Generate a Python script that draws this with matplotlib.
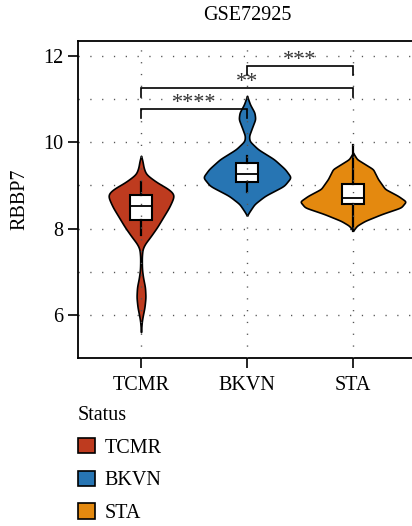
import numpy as np
import matplotlib
matplotlib.use("Agg")
import matplotlib.pyplot as plt
from matplotlib.patches import Patch

plt.rcParams['font.family'] = ['Liberation Serif', 'DejaVu Serif']

# ---------------- data ----------------
groups = ["TCMR", "BKVN", "STA"]
colors = ["#BE3B1F", "#2775B3", "#E4890F"]
title = "GSE72925"
ylabel = "RBBP7"

# violin density profiles (value, relative half-width)
tcmr_y = [5.60, 5.83, 5.95, 6.18, 6.41, 6.64, 6.87, 7.05, 7.19, 7.35, 7.53, 7.65, 7.80, 8.03,
          8.26, 8.49, 8.69, 8.80, 8.92, 9.07, 9.26, 9.42, 9.57, 9.69]
tcmr_d = [0.0, 0.7, 1.5, 3.5, 4.5, 4.0, 2.0, 1.0, 0.8, 0.8, 1.5, 4.0, 9.0, 16.0,
          22.0, 28.0, 32.0, 33.0, 27.5, 16.0, 5.0, 2.5, 1.5, 0.0]
bkvn_y = [8.30, 8.38, 8.57, 8.76, 8.99, 9.19, 9.38, 9.61, 9.84, 10.03, 10.15, 10.34,
          10.54, 10.69, 10.88, 11.08]
bkvn_d = [0.0, 2.0, 7.5, 18.0, 37.0, 44.0, 38.0, 27.0, 11.0, 2.5, 2.0, 5.0,
          8.3, 7.5, 3.0, 0.0]
sta_y = [7.95, 8.07, 8.18, 8.34, 8.49, 8.63, 8.76, 8.92, 9.15, 9.38, 9.61, 9.76]
sta_d = [0.0, 4.0, 12.0, 29.0, 48.0, 53.0, 45.0, 32.0, 25.0, 20.0, 4.0, 0.0]

# box statistics
q1 = [8.20, 9.09, 8.58]
med = [8.52, 9.26, 8.72]
q3 = [8.79, 9.52, 9.04]
whislo = [7.85, 8.84, 7.95]
whishi = [9.07, 9.69, 9.93]

# significance brackets
pairs = [(1, 2), (1, 3), (2, 3)]
bracket_h = [10.77, 11.25, 11.77]
stars = ["****", "**", "***"]

# ---------------- figure ----------------
FS = 14.5
W, H = 412, 526
fig = plt.figure(figsize=(W / 100, H / 100), dpi=100)
ax_l, ax_r, ax_t, ax_b = 78, 440, 41, 358
ax = fig.add_axes([ax_l / W, 1 - ax_b / H, (ax_r - ax_l) / W, (ax_b - ax_t) / H])
px_per_unit = 106.0
x0 = 1 - (141 - ax_l) / px_per_unit
ax.set_xlim(x0, x0 + (ax_r - ax_l) / px_per_unit)
ax.set_ylim(5.0, 12.35)

# horizontal grid (beneath)
for v in range(6, 13):
    ax.axhline(v, color="#555555", lw=1.0, ls=(0, (0.9, 7.6)), zorder=0)


def smooth_profile(ys, ds, n=400):
    yy = np.linspace(ys[0], ys[-1], n)
    dd = np.interp(yy, ys, ds)
    k = np.exp(-0.5 * (np.arange(-12, 13) / 5.0) ** 2)
    k /= k.sum()
    pad = np.concatenate([np.zeros(12), dd, np.zeros(12)])
    dd = np.convolve(pad, k, mode="same")[12:-12]
    dd[0] = dd[-1] = 0
    return yy, dd


profiles = [(tcmr_y, tcmr_d), (bkvn_y, bkvn_d), (sta_y, sta_d)]
for i, (ys, ds) in enumerate(profiles):
    pos = i + 1
    yy, dd = smooth_profile(ys, ds)
    hw = dd / px_per_unit
    ax.fill_betweenx(yy, pos - hw, pos + hw, facecolor=colors[i], edgecolor="black",
                     lw=1.2, zorder=2)

# box plots
stats = []
for i in range(3):
    stats.append(dict(med=med[i], q1=q1[i], q3=q3[i], whislo=whislo[i], whishi=whishi[i],
                      fliers=[]))
ax.bxp(stats, positions=[1, 2, 3], widths=0.2, patch_artist=True, showcaps=False,
       showfliers=False, manage_ticks=False,
       boxprops=dict(facecolor="white", edgecolor="black", lw=1.5),
       medianprops=dict(color="black", lw=1.3),
       whiskerprops=dict(color="black", lw=1.6), zorder=3)

# vertical grid (dots show above)
for p in [1, 2, 3]:
    ax.axvline(p, color="#555555", lw=1.0, ls=(0, (0.9, 7.6)), zorder=4)

# brackets
drop = 0.2
for (a, b), h, s in zip(pairs, bracket_h, stars):
    ax.plot([a, a, b, b], [h - drop, h, h, h - drop], color="black", lw=1.2, zorder=5,
            solid_joinstyle="miter")
    ax.text((a + b) / 2, h + 0.13, s, ha="center", va="center", fontsize=16,
            color="#333333", zorder=6)

# axes styling
ax.set_yticks([6, 8, 10, 12])
ax.set_xticks([1, 2, 3])
ax.set_xticklabels(groups)
ax.tick_params(axis="both", direction="out", length=7, width=1.2, labelsize=FS,
               colors="black")
ax.tick_params(axis="x", pad=6)
for sp in ax.spines.values():
    sp.set_linewidth(1.3)
ax.set_ylabel(ylabel, fontsize=FS, labelpad=10)
fig.text(247 / W, 1 - 15 / H, title, ha="center", va="center", fontsize=FS)

# legend
handles = [Patch(facecolor=c, edgecolor="black", lw=1.2) for c in colors]
leg = fig.legend(handles, groups, title="Status", loc="upper left",
                 bbox_to_anchor=(64 / W, 1 - 392 / H), frameon=False, fontsize=FS,
                 title_fontsize=FS, handlelength=0.85, handleheight=0.8,
                 handletextpad=0.45, labelspacing=0.64, borderpad=0.2)
leg._legend_box.align = "left"

fig.savefig("out.png", dpi=100)
